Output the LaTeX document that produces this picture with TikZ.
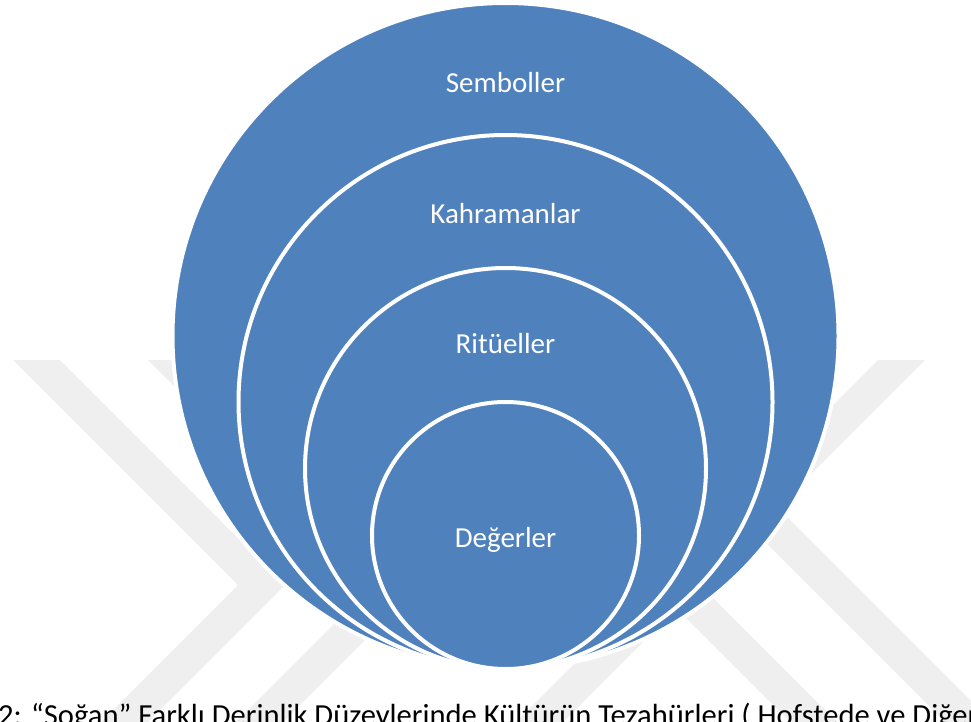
\documentclass[tikz,border=0pt]{standalone}
\usepackage{fontspec}
\setmainfont{Carlito}
\definecolor{onionblue}{HTML}{4F81BD}
\definecolor{wmgray}{HTML}{EFEFEF}
\begin{document}
\begin{tikzpicture}[x=1pt,y=-1pt,
  layer/.style={fill=onionblue,draw=white,line width=4pt},
  lbl/.style={text=white,font=\fontsize{29}{34}\selectfont,anchor=base,inner sep=0pt},
  band/.style={fill=wmgray,draw=none}]
\useasboundingbox (0,0) rectangle (971,722);
% watermark
\begin{scope}
\clip (-10,360) rectangle (990,780);
\fill[band] (13,360) -- (60,360) -- (285,585) -- (110,760) -- (63,760) -- (238,585) -- cycle;
\fill[band] (148,360) -- (195,360) -- (420,585) -- (245,760) -- (198,760) -- (373,585) -- cycle;
\fill[band] (878,360) -- (925,360) -- (700,585) -- (875,760) -- (828,760) -- (653,585) -- cycle;
\fill[band] (653,585) -- (700,585) -- (525,760) -- (478,760) -- cycle;
\fill[band] (583,360) -- (630,360) -- (1030,760) -- (983,760) -- cycle;
\end{scope}
% nested circles
\draw[layer] (505.5,336) circle[radius=333pt];
\draw[layer] (505.5,402) circle[radius=267pt];
\draw[layer] (505.5,468.5) circle[radius=200.5pt];
\draw[layer] (505.5,535.5) circle[radius=133.5pt];
\node[lbl] (sem) at (505.5,93) {Semboller};
\node[lbl] (kah) at (505.5,223) {Kahramanlar};
\node[lbl] (rit) at (505.5,353) {Ritüeller};
\node[lbl] (deg) at (505.5,547) {Değerler};
\node[anchor=base west,inner sep=0pt,font=\fontsize{30.6}{36}\selectfont] (cap) at (-2,725)
  {2: “Soğan” Farklı Derinlik Düzeylerinde Kültürün Tezahürleri ( Hofstede ve Diğerl};
\end{tikzpicture}
\end{document}
